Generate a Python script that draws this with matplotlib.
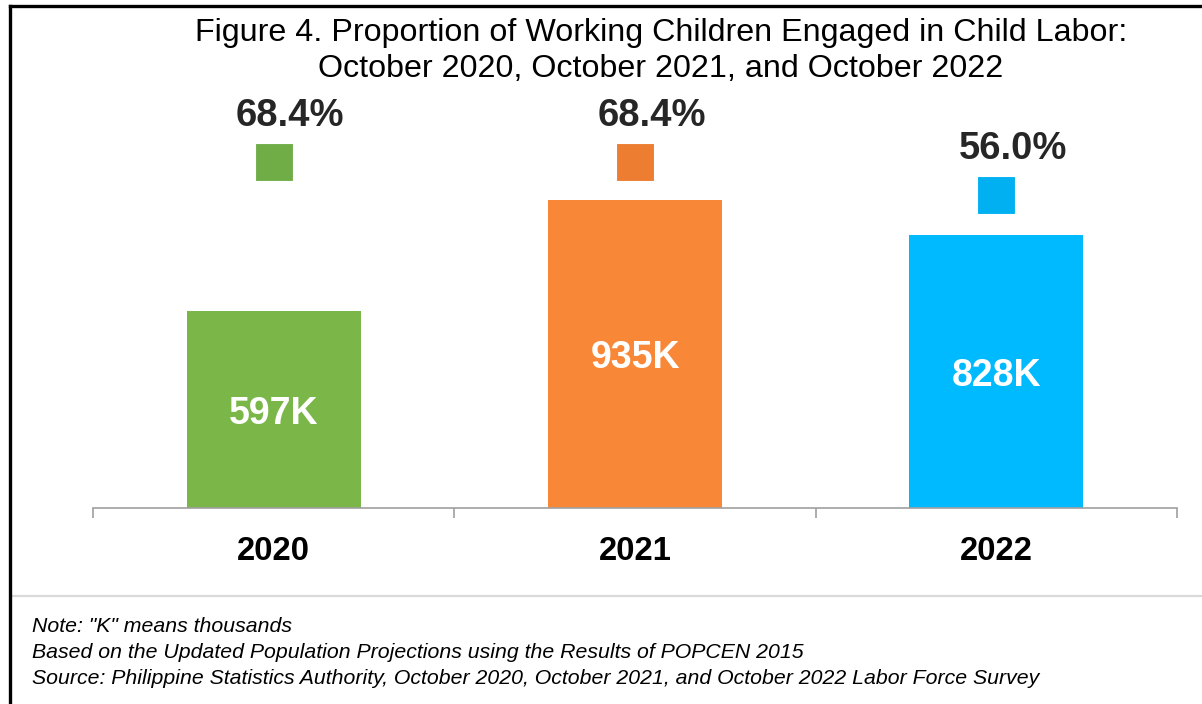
import matplotlib
matplotlib.use("Agg")
import matplotlib.pyplot as plt
from matplotlib.lines import Line2D
import numpy as np

years = ["2020", "2021", "2022"]
counts_k = [597, 935, 828]
count_labels = ["597K", "935K", "828K"]
proportions = [68.4, 68.4, 56.0]
prop_labels = ["68.4%", "68.4%", "56.0%"]
bar_colors = ["#7AB648", "#F88837", "#00BAFF"]
marker_colors = ["#70AD47", "#ED7D31", "#00B0F0"]

title = ("Figure 4. Proportion of Working Children Engaged in Child Labor:\n"
         "October 2020, October 2021, and October 2022")
notes = ['Note: "K" means thousands',
         "Based on the Updated Population Projections using the Results of POPCEN 2015",
         "Source: Philippine Statistics Authority, October 2020, October 2021, and October 2022 Labor Force Survey"]

plt.rcParams['font.family'] = ['Liberation Sans', 'DejaVu Sans']

W, H = 1202, 704
fig = plt.figure(figsize=(W / 100, H / 100), dpi=100)

def fx(px):
    return px / W

def fy(py):
    return 1 - py / H

ax_left, ax_right, ax_top, ax_bottom = 93, 1177, 90, 508
ax = fig.add_axes([fx(ax_left), fy(ax_bottom), fx(ax_right - ax_left), (ax_bottom - ax_top) / H])
x = np.arange(len(years))
ax.bar(x, counts_k, width=0.482, color=bar_colors, zorder=2)
ax.set_xlim(-0.5, len(years) - 0.5)
ax.set_ylim(0, (ax_bottom - ax_top) * 3.035)
for s in ["top", "right", "left"]:
    ax.spines[s].set_visible(False)
ax.spines["bottom"].set_color("#A0A0A0")
ax.spines["bottom"].set_linewidth(1.2)
ax.set_yticks([])
ax.set_xticks(np.arange(-0.5, len(years)), labels=[""] * (len(years) + 1))
ax.tick_params(axis="x", which="major", direction="out", length=7, color="#A0A0A0", width=1.2)
ax.set_xticks(x, labels=years, minor=True)
ax.tick_params(axis="x", which="minor", length=0, pad=20, labelsize=23.6)
for lbl in ax.get_xticklabels(minor=True):
    lbl.set_fontweight("bold")

for xi, v, lab in zip(x, counts_k, count_labels):
    ax.annotate(lab, (xi, v / 2), xytext=(0, -3), textcoords="offset points",
                ha="center", va="center", color="white",
                fontsize=27, fontweight="bold", zorder=3)

ax2 = ax.twinx()
ax2.set_ylim(-61.6, 95.5)
ax2.axis("off")
for xi, p, lab, c in zip(x, proportions, prop_labels, marker_colors):
    ax2.plot([xi], [p], marker="s", markersize=27.5, color=c,
             markeredgecolor="#FFFFFF", markeredgewidth=0.8, linestyle="none")
    ax2.annotate(lab, (xi, p), xytext=(12, 33), textcoords="offset points",
                 ha="center", va="center", fontsize=27.5, fontweight="bold", color="#262626")

fig.text(fx(661), fy(51), title, ha="center", va="center", fontsize=23.2,
         color="black", linespacing=1.28)

for i, n in enumerate(notes):
    fig.text(fx(32), fy(626 + 26 * i), n, ha="left", va="center", fontsize=15.3,
             style="italic", color="black")

# frame lines
fig.add_artist(Line2D([fx(11), 1], [fy(596), fy(596)], color="#D9D9D9", lw=1.6))
fig.add_artist(Line2D([fx(10), 1], [fy(6), fy(6)], color="black", lw=2.4))
fig.add_artist(Line2D([fx(10), fx(10)], [fy(6), 0], color="black", lw=2.4))

fig.savefig("out.png", dpi=100)
